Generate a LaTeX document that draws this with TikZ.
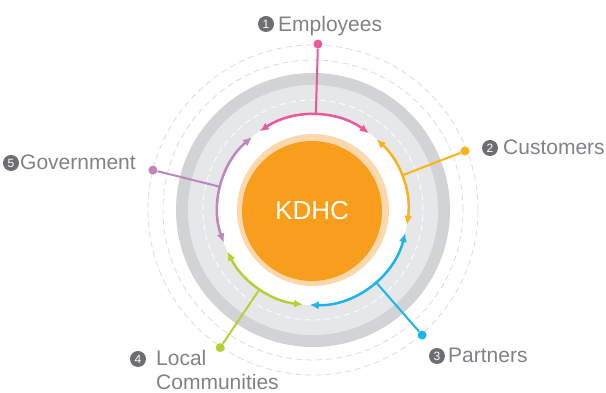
\documentclass[tikz,border=0pt]{standalone}
\usepackage{fontspec}
\setmainfont{Liberation Sans}
\usetikzlibrary{arrows.meta}
\definecolor{pinkc}{HTML}{E9579C}
\definecolor{yelc}{HTML}{F9B31B}
\definecolor{bluec}{HTML}{1CB5E8}
\definecolor{greenc}{HTML}{B7CF32}
\definecolor{purc}{HTML}{BD86BC}
\definecolor{orangec}{HTML}{F89D1C}
\definecolor{peachc}{HTML}{FDD8AC}
\definecolor{ringdark}{HTML}{D1D3D4}
\definecolor{ringlight}{HTML}{E6E7E8}
\definecolor{dashgray}{HTML}{DCDCDC}
\definecolor{numgray}{HTML}{6D6E71}
\definecolor{txtgray}{HTML}{808285}
\tikzset{
  numcirc/.style={circle, fill=numgray, text=white, inner sep=0pt, minimum size=16pt,
    font=\fontsize{12}{12}\selectfont},
  lbl/.style={anchor=base west, text=txtgray, inner sep=0pt, font=\fontsize{21}{21}\selectfont},
  enddot/.style={circle, fill=#1, inner sep=0pt, minimum size=9pt},
  arcline/.style={draw=#1, line width=2.5pt, {Latex[length=9pt,width=8pt]}-{Latex[length=9pt,width=8pt]}},
  conn/.style={draw=#1, line width=2pt},
  outdash/.style={draw=dashgray, line width=0.8pt, dash pattern=on 6pt off 4pt},
}
\begin{document}
\begin{tikzpicture}
\useasboundingbox (-313pt,-183pt) rectangle (293pt,210pt);
% outer dashed circles
\draw[outdash] (0,0) circle[radius=165pt];
\draw[outdash] (0,0) circle[radius=150pt];
% rings
\fill[ringdark] (0,0) circle[radius=137pt];
\fill[ringlight] (0,0) circle[radius=125pt];
\draw[white, line width=0.8pt, dash pattern=on 6pt off 4pt] (0,0) circle[radius=110pt];
\fill[white] (0,0) circle[radius=95pt];
% center
\fill[peachc] (0,0) circle[radius=76pt];
\node[circle, fill=orangec, minimum size=140pt, inner sep=0pt, text=white,
  font=\fontsize{26}{26}\selectfont] (kdhc) at (-1pt,-1pt) {KDHC};
% connector start points on the arc
\coordinate (s1) at (88.3:95pt);
\coordinate (s2) at (21.2:95pt);
\coordinate (s3) at (-48.9:95pt);
\coordinate (s4) at (236:95pt);
\coordinate (s5) at (166:95pt);
% end dots
\node[enddot=pinkc] (d1) at (88.3:166pt) {};
\node[enddot=yelc] (d2) at (21.2:163pt) {};
\node[enddot=bluec] (d3) at (-48.9:166pt) {};
\node[enddot=greenc] (d4) at (236:166pt) {};
\node[enddot=purc] (d5) at (166:165pt) {};
% connectors
\draw[conn=pinkc] (s1) -- (d1);
\draw[conn=yelc] (s2) -- (d2);
\draw[conn=bluec] (s3) -- (d3);
\draw[conn=greenc] (s4) -- (d4);
\draw[conn=purc] (s5) -- (d5);
% arcs
\draw[arcline=pinkc] (54:95pt) arc[start angle=54, end angle=124, radius=95pt];
\draw[arcline=yelc] (48:95pt) arc[start angle=48, end angle=-9, radius=95pt];
\draw[arcline=bluec] (-14:95pt) arc[start angle=-14, end angle=-92, radius=95pt];
\draw[arcline=greenc] (-96:95pt) arc[start angle=-96, end angle=-154, radius=95pt];
\draw[arcline=purc] (200:95pt) arc[start angle=200, end angle=130, radius=95pt];
% labels
\node[numcirc] (n1) at (-47pt,186pt) {1};
\node[lbl] (t1) at (-35pt,178pt) {Employees};
\node[numcirc] (n2) at (177pt,62pt) {2};
\node[lbl] (t2) at (190pt,55pt) {Customers};
\node[numcirc] (n3) at (124pt,-146pt) {3};
\node[lbl] (t3) at (135pt,-153pt) {Partners};
\node[numcirc] (n4) at (-175pt,-149pt) {4};
\node[lbl] (t4) at (-157pt,-156pt) {Local};
\node[lbl] (t4b) at (-157pt,-179.5pt) {Communities};
\node[numcirc] (n5) at (-302pt,47pt) {5};
\node[lbl] (t5) at (-293pt,40pt) {Government};
\end{tikzpicture}
\end{document}
